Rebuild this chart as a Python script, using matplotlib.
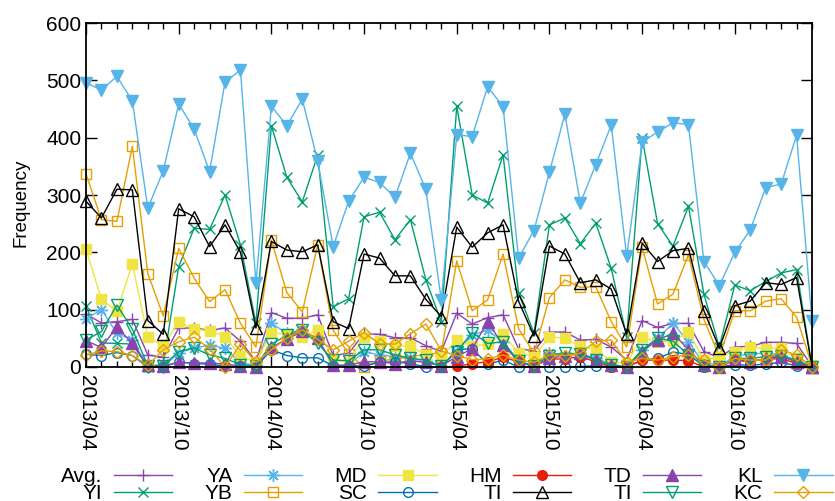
import numpy as np
import matplotlib
matplotlib.use("Agg")
import matplotlib.pyplot as plt

plt.rcParams['font.family'] = ['Liberation Sans', 'DejaVu Sans']

# months 2013/04 .. 2017/03 (48 points)
months = np.arange(48)
tick_labels = ["2013/04", "2013/10", "2014/04", "2014/10",
               "2015/04", "2015/10", "2016/04", "2016/10"]

avg = [92, 77, 79, 83, 21, 17, 68, 68, 64, 68, 45, 10, 95, 85, 85, 91,
       20, 24, 58, 57, 51, 51, 37, 27, 94, 75, 86, 91, 32, 28, 61, 61,
       47, 48, 35, 12, 81, 69, 76, 76, 27, 16, 35, 36, 43, 43, 41, 1]
yi = [106, 42, 41, 40, 0, 5, 175, 242, 240, 300, 213, 76, 421, 331, 288, 370,
      105, 119, 262, 270, 222, 257, 152, 79, 455, 300, 286, 370, 129, 59, 248, 260,
      215, 251, 172, 53, 400, 250, 211, 280, 127, 35, 143, 133, 149, 164, 170, 0]
ya = [84, 100, 59, 47, 0, 0, 25, 33, 38, 33, 7, 3, 76, 59, 65, 48,
      3, 3, 27, 21, 18, 15, 10, 2, 27, 56, 64, 44, 10, 2, 25, 20,
      22, 15, 5, 0, 30, 50, 76, 44, 5, 0, 20, 22, 25, 20, 10, 0]
yb = [337, 257, 254, 385, 163, 89, 207, 155, 114, 135, 76, 35, 221, 130, 96, 213,
      64, 23, 0, 10, 14, 18, 22, 25, 185, 98, 117, 197, 67, 24, 121, 152,
      139, 140, 79, 35, 209, 110, 127, 196, 83, 18, 98, 98, 115, 119, 87, 2]
md = [205, 118, 97, 180, 53, 36, 79, 66, 63, 53, 19, 9, 60, 57, 53, 65,
      12, 9, 53, 46, 37, 36, 21, 18, 47, 36, 40, 57, 25, 18, 53, 50,
      36, 31, 9, 6, 52, 44, 45, 61, 12, 18, 27, 34, 32, 33, 15, 3]
sc = [22, 20, 25, 20, 0, 0, 9, 6, 5, 1, 1, 0, 30, 20, 16, 16,
      2, 2, 2, 8, 9, 6, 0, 0, 30, 32, 5, 12, 0, 0, 0, 0,
      1, 2, 0, 0, 12, 15, 26, 22, 2, 0, 4, 3, 5, 8, 2, 0]
hm = [np.nan] * 23 + [0, 1, 6, 9, 17, 9, 1, 14, 14,
                      18, 9, 0, 0, 12, 12, 12, 11, 0, 0, 12, 11, 13, 15, 6, 0]
ti_k = [289, 260, 310, 309, 81, 57, 276, 262, 210, 248, 200, 68, 219, 204, 201, 213,
        79, 67, 197, 190, 159, 159, 118, 88, 244, 209, 234, 248, 115, 54, 211, 197,
        147, 152, 136, 57, 216, 184, 203, 207, 98, 33, 107, 115, 147, 144, 156, 0]
td = [46, 34, 70, 41, 3, 2, 8, 7, 7, 5, 2, 0, 34, 49, 62, 50,
      3, 3, 9, 9, 6, 11, 8, 2, 18, 32, 79, 38, 10, 1, 15, 20,
      25, 12, 3, 0, 27, 47, 59, 30, 3, 0, 12, 9, 15, 18, 9, 0]
ti_g = [47, 62, 108, 66, 2, 2, 27, 33, 21, 15, 4, 2, 40, 55, 64, 41,
        12, 11, 30, 30, 21, 15, 12, 1, 27, 60, 41, 44, 10, 1, 20, 25,
        22, 12, 3, 0, 30, 50, 45, 21, 2, 0, 15, 15, 18, 20, 12, 0]
kl = [496, 483, 507, 464, 277, 342, 459, 415, 341, 497, 518, 146, 455, 421, 467, 359,
      210, 289, 331, 322, 296, 373, 310, 117, 405, 402, 489, 454, 190, 238, 340, 441,
      286, 353, 422, 193, 392, 410, 426, 423, 184, 142, 200, 239, 313, 319, 404, 80]
kc = [21, 28, 27, 20, 3, 30, 44, 52, 32, 0, 40, 8, 30, 50, 65, 48,
      30, 45, 60, 40, 40, 58, 75, 28, 20, 13, 14, 21, 12, 8, 21, 20,
      24, 45, 47, 8, 15, 12, 18, 21, 12, 0, 15, 12, 12, 30, 21, 0]

PURPLE = '#8a44ad'
GREEN = '#009e73'
SKY = '#56b4e9'
ORANGE = '#e69f00'
YELLOW = '#f0e442'
BLUE = '#0072b2'
RED = '#e51e10'

# label, values, colour, marker, size, filled
series = [
    ("Avg.", avg, PURPLE, '+', 9, True),
    ("YI", yi, GREEN, 'x', 7, True),
    ("YA", ya, SKY, (8, 2, 0), 9, True),
    ("YB", yb, ORANGE, 's', 7, False),
    ("MD", md, YELLOW, 's', 7, True),
    ("SC", sc, BLUE, 'o', 7, False),
    ("HM", hm, RED, 'o', 7, True),
    ("TI", ti_k, 'black', '^', 8, False),
    ("TD", td, PURPLE, '^', 8, True),
    ("TI", ti_g, GREEN, 'v', 8, False),
    ("KL", kl, SKY, 'v', 8, True),
    ("KC", kc, ORANGE, 'D', 6, False),
]

fig = plt.figure(figsize=(8.35, 5.01), dpi=100)
ax = fig.add_axes([0.103, 0.2675, 0.8695, 0.6865])

for label, vals, col, mk, ms, filled in series:
    ax.plot(months, vals, color=col, lw=1.0, marker=mk, markersize=ms,
            markerfacecolor=col if filled else 'none', markeredgecolor=col,
            markeredgewidth=1.0, label=label, clip_on=False)

ax.set_xlim(0, 47)
ax.set_ylim(0, 600)
ax.set_xticks(months[::6])
ax.set_xticklabels(tick_labels, rotation=270, fontsize=15)
ax.set_xticks(months, minor=True)
ax.set_yticks(np.arange(0, 601, 100))
ax.tick_params(axis='y', labelsize=15)
ax.tick_params(which='both', direction='in', top=True, right=True, width=1.0)
ax.tick_params(which='major', length=8)
ax.tick_params(which='minor', length=4)
ax.tick_params(axis='x', pad=6)
for s in ax.spines.values():
    s.set_linewidth(1.3)
ax.set_ylabel("Frequency", fontsize=13.5)
ax.yaxis.set_label_coords(-0.078, 0.477)

ax.legend(loc='upper left', bbox_to_anchor=(0.073, 0.067), bbox_transform=fig.transFigure,
          ncol=6, frameon=False, fontsize=15, markerfirst=False, numpoints=1,
          handlelength=2.8, handletextpad=0.55, columnspacing=1.55,
          labelspacing=-0.12, borderpad=0, borderaxespad=0)

fig.savefig("out.png", dpi=100)
